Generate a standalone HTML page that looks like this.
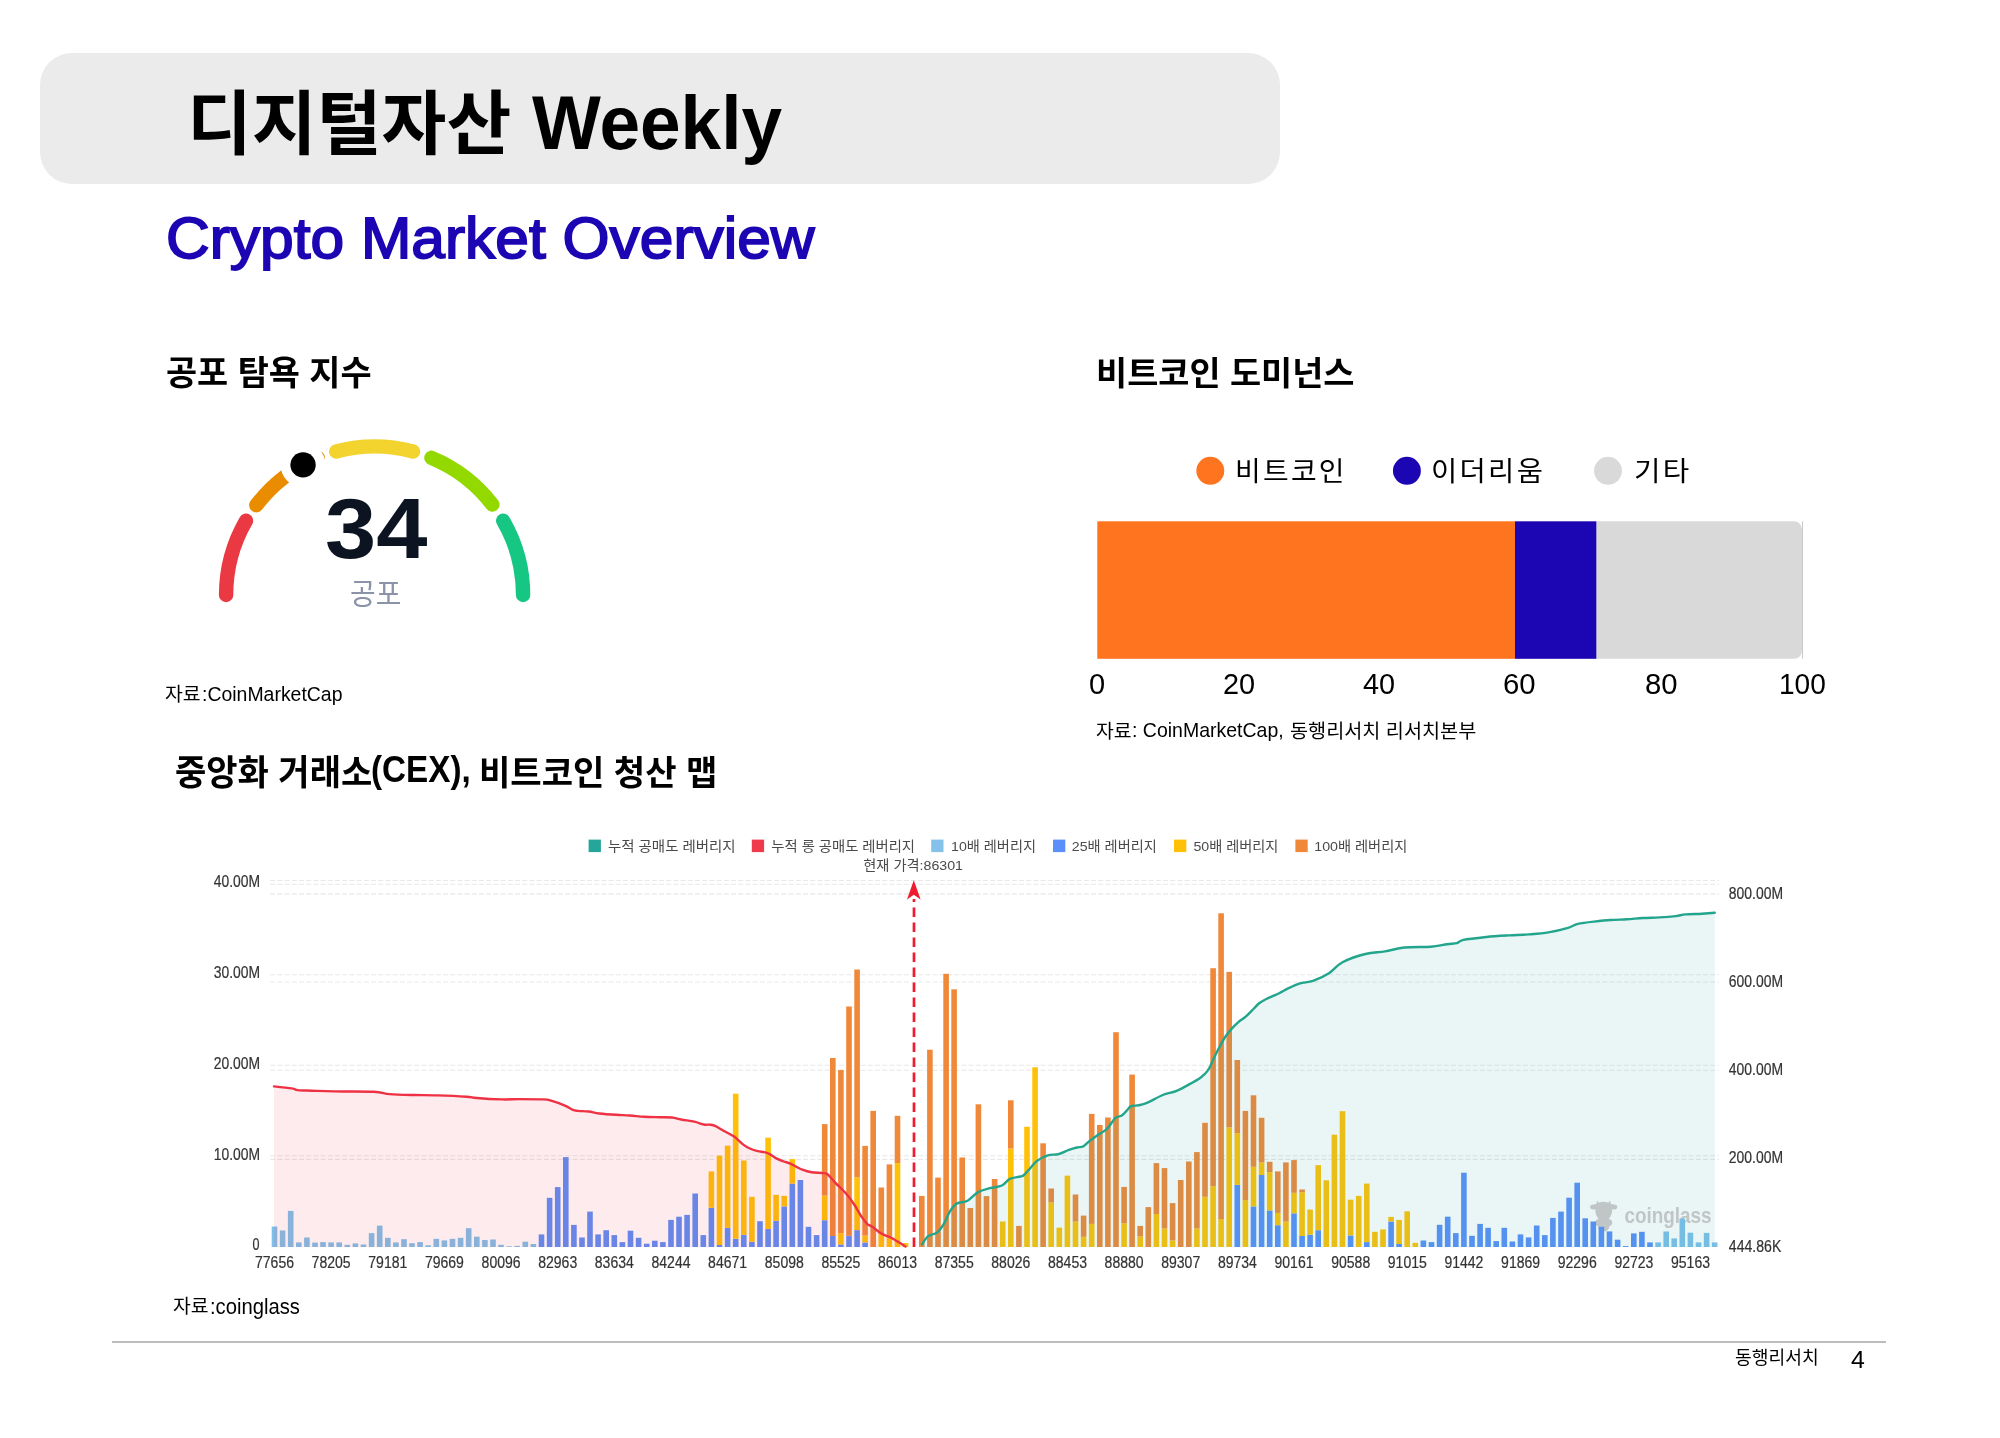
<!DOCTYPE html>
<html lang="ko"><head><meta charset="utf-8"><title>디지털자산 Weekly</title>
<style>
html,body{margin:0;padding:0;background:#fff;}
body{width:2000px;height:1438px;position:relative;overflow:hidden;font-family:"Liberation Sans","Noto Sans CJK KR","NanumGothic",sans-serif;color:#000;}
.abs{position:absolute;white-space:nowrap;line-height:1;transform-origin:0 0;}
#hdr{position:absolute;left:40px;top:52.6px;width:1240.1px;height:131.8px;border-radius:32px;background:#ebebeb;}
#foot{position:absolute;left:112.2px;top:1341.1px;width:1774.3px;height:1.6px;background:#bdbdbd;}
</style></head><body>
<div id="hdr"></div>
<div id="t_kr" class="abs tx" style="left:186.72px;top:90.65px;font-size:69.93px;font-weight:700;color:#000;transform:scaleX(1.0081);">디지털자산 </div>
<div id="t_en" class="abs tx" style="left:532.00px;top:84.78px;font-size:76.54px;font-weight:700;color:#000;transform:scaleX(0.9528);">Weekly</div>
<div id="sub" class="abs tx" style="left:165.57px;top:209.50px;font-size:57.68px;font-weight:400;color:#1c05b3;transform:scaleX(1.0485);-webkit-text-stroke:1.8px #1c05b3;">Crypto Market Overview</div>
<div id="h2a" class="abs tx" style="left:166.01px;top:355.80px;font-size:34.43px;font-weight:700;color:#000;transform:scaleX(0.9828);">공포 탐욕 지수</div>
<div id="h2b" class="abs tx" style="left:1095.91px;top:357.05px;font-size:33.28px;font-weight:700;color:#000;transform:scaleX(1.0173);">비트코인 도미넌스</div>
<div id="h2c1" class="abs tx" style="left:174.60px;top:756.15px;font-size:34.72px;font-weight:700;color:#000;transform:scaleX(0.9799);">중앙화 거래소</div>
<div id="h2c2" class="abs tx" style="left:370.91px;top:752.08px;font-size:36.51px;font-weight:700;color:#000;transform:scaleX(0.9106);">(CEX), </div>
<div id="h2c3" class="abs tx" style="left:479.39px;top:756.47px;font-size:34.36px;font-weight:700;color:#000;transform:scaleX(0.9917);">비트코인 청산 맵</div>
<div id="src1k" class="abs tx" style="left:164.98px;top:686.49px;font-size:18.88px;font-weight:400;color:#000;transform:scaleX(1.0260);">자료</div>
<div id="src1e" class="abs tx" style="left:201.77px;top:684.04px;font-size:20.68px;font-weight:400;color:#000;transform:scaleX(0.9406);">:CoinMarketCap</div>
<div id="src2a" class="abs tx" style="left:1095.98px;top:722.99px;font-size:18.88px;font-weight:400;color:#000;transform:scaleX(1.0260);">자료</div>
<div id="src2b" class="abs tx" style="left:1131.57px;top:720.20px;font-size:20.94px;font-weight:400;color:#000;transform:scaleX(0.9311);">: CoinMarketCap, </div>
<div id="src2c" class="abs tx" style="left:1289.76px;top:721.55px;font-size:19.73px;font-weight:400;color:#000;transform:scaleX(0.9966);">동행리서치 리서치본부</div>
<div id="src3k" class="abs tx" style="left:173.48px;top:1298.49px;font-size:18.88px;font-weight:400;color:#000;transform:scaleX(1.0260);">자료</div>
<div id="src3e" class="abs tx" style="left:210.20px;top:1295.51px;font-size:21.22px;font-weight:400;color:#000;transform:scaleX(0.9533);">:coinglass</div>
<div id="ft1" class="abs tx" style="left:1734.99px;top:1349.88px;font-size:17.92px;font-weight:400;color:#000;transform:scaleX(1.0154);">동행리서치</div>
<div id="ft2" class="abs tx" style="left:1851.19px;top:1349.20px;font-size:23.34px;font-weight:400;color:#000;transform:scaleX(1.0649);">4</div>
<div id="g34" class="abs tx" style="left:324.72px;top:486.24px;font-size:85.16px;font-weight:700;color:#0d1421;transform:scaleX(1.0811);filter:blur(0.7px);">34</div>
<div id="gfear" class="abs tx" style="left:350.16px;top:579.12px;font-size:30.10px;font-weight:400;color:#8a93a8;transform:scaleX(0.9263);filter:blur(0.6px);">공포</div>
<div id="lg1" class="abs tx" style="left:1235.00px;top:458.52px;font-size:26.98px;font-weight:400;color:#000;transform:scaleX(1.0344);letter-spacing:2.2px;">비트코인</div>
<div id="lg2" class="abs tx" style="left:1431.36px;top:458.52px;font-size:26.98px;font-weight:400;color:#000;transform:scaleX(1.0573);letter-spacing:2.2px;">이더리움</div>
<div id="lg3" class="abs tx" style="left:1634.17px;top:458.84px;font-size:26.99px;font-weight:400;color:#000;transform:scaleX(1.0672);letter-spacing:2.2px;">기타</div>
<div id="ax0" class="abs tx" style="left:1088.78px;top:669.03px;font-size:29.52px;font-weight:400;color:#000;transform:scaleX(0.9834);">0</div>
<div id="ax20" class="abs tx" style="left:1222.66px;top:669.03px;font-size:29.52px;font-weight:400;color:#000;transform:scaleX(0.9781);">20</div>
<div id="ax40" class="abs tx" style="left:1363.43px;top:669.03px;font-size:29.52px;font-weight:400;color:#000;transform:scaleX(0.9777);">40</div>
<div id="ax60" class="abs tx" style="left:1503.33px;top:669.03px;font-size:29.52px;font-weight:400;color:#000;transform:scaleX(0.9933);">60</div>
<div id="ax80" class="abs tx" style="left:1644.72px;top:669.03px;font-size:29.52px;font-weight:400;color:#000;transform:scaleX(0.9919);">80</div>
<div id="ax100" class="abs tx" style="left:1778.84px;top:669.03px;font-size:29.52px;font-weight:400;color:#000;transform:scaleX(0.9509);">100</div>
<div id="foot"></div>
<svg id="gauge" style="position:absolute;left:200px;top:420px;filter:blur(0.6px)" width="350" height="200" viewBox="200 420 350 200"><path d="M226.10 595.00A148.5 148.5 0 0 1 246.00 520.75" stroke="#ea3943" stroke-width="14.4" stroke-linecap="round" fill="none"/><path d="M256.32 505.22A148.5 148.5 0 0 1 317.77 457.80" stroke="#ea8c00" stroke-width="14.4" stroke-linecap="round" fill="none"/><path d="M336.17 451.56A148.5 148.5 0 0 1 413.03 451.56" stroke="#f3d42f" stroke-width="14.4" stroke-linecap="round" fill="none"/><path d="M431.43 457.80A148.5 148.5 0 0 1 492.41 504.60" stroke="#93d900" stroke-width="14.4" stroke-linecap="round" fill="none"/><path d="M503.20 520.75A148.5 148.5 0 0 1 523.10 595.00" stroke="#16c784" stroke-width="14.4" stroke-linecap="round" fill="none"/><circle cx="303.06" cy="464.87" r="22.5" fill="#fff"/><circle cx="303.06" cy="464.87" r="12.7" fill="#000"/></svg>
<svg id="dom" style="position:absolute;left:1080px;top:440px" width="760" height="230" viewBox="1080 440 760 230">
<circle cx="1210.3" cy="470.8" r="13.95" fill="#ff741f"/><circle cx="1406.9" cy="470.8" r="13.95" fill="#1c05b3"/><circle cx="1608" cy="470.8" r="13.95" fill="#d9d9d9"/>
<path d="M1596 521.3H1794a8 8 0 0 1 8 8V650.800a8 8 0 0 1 -8 8H1596Z" fill="#d9d9d9"/>
<rect x="1097.3" y="521.3" width="417.7" height="137.500" fill="#ff741f"/>
<rect x="1515" y="521.3" width="81.300" height="137.500" fill="#1c05b3"/>
<path d="M1802.500 521.300V658.800" stroke="#cacaca" stroke-width="1"/>
</svg>
<svg id="chart" style="position:absolute;left:200px;top:830px;filter:blur(0.4px)" width="1620" height="450" viewBox="200 830 1620 450">
<g stroke="#e8e8e8" stroke-width="1.1" stroke-dasharray="5 2.2" fill="none">
<path d="M270.2 880.5H1719"/>
<path d="M270.2 884.2H1719"/>
<path d="M270.2 893.9H1719"/>
<path d="M270.2 974.8H1719"/>
<path d="M270.2 982.0H1719"/>
<path d="M270.2 1065.3H1719"/>
<path d="M270.2 1070.3H1719"/>
<path d="M270.2 1155.8H1719"/>
<path d="M270.2 1159.4H1719"/>
</g>
<g fill="#d2c9cb">
<path d="M1597.2 1200.6l1.600 2.100q4.800-1.700 9.600 0l1.600-2.100l1.100 3.300q2.600 0.300 5.300 1.200q1.700 1.300 0.600 3.100q-1.200 1.500-3.600 1.300l-1.400-0.300q0.500 5.600-3.300 9.700q3.600 0.700 3.700 3.800q-0.200 2.600-2.700 3.200q-0.700 3.400-3.400 5.300h-5.200q-2.700-1.900-3.400-5.300q-2.500-0.600-2.700-3.200q0.100-3.100 3.700-3.800q-3.800-4.100-3.300-9.700l-1.400 0.300q-2.400 0.200-3.600-1.300q-1.100-1.800 0.600-3.100q2.700-0.900 5.300-1.200z"/>
<text x="1624.4" y="1223.2" font-size="22" font-weight="700" font-family="Liberation Sans, Noto Sans CJK KR, NanumGothic, sans-serif" textLength="87.2" lengthAdjust="spacingAndGlyphs">coinglass</text>
</g>
<g shape-rendering="auto">
<rect x="271.7" y="1226.5" width="5.6" height="20.5" fill="#7ec0ea"/>
<rect x="279.8" y="1230.5" width="5.6" height="16.5" fill="#7ec0ea"/>
<rect x="287.9" y="1210.9" width="5.6" height="36.1" fill="#7ec0ea"/>
<rect x="296.0" y="1242.4" width="5.6" height="4.6" fill="#7ec0ea"/>
<rect x="304.1" y="1237.5" width="5.6" height="9.5" fill="#7ec0ea"/>
<rect x="312.2" y="1242.6" width="5.6" height="4.4" fill="#7ec0ea"/>
<rect x="320.2" y="1242.1" width="5.6" height="4.9" fill="#7ec0ea"/>
<rect x="328.3" y="1242.4" width="5.6" height="4.6" fill="#7ec0ea"/>
<rect x="336.4" y="1242.4" width="5.6" height="4.6" fill="#7ec0ea"/>
<rect x="344.5" y="1244.8" width="5.6" height="2.2" fill="#7ec0ea"/>
<rect x="352.6" y="1243.4" width="5.6" height="3.6" fill="#7ec0ea"/>
<rect x="360.7" y="1244.5" width="5.6" height="2.5" fill="#7ec0ea"/>
<rect x="368.8" y="1233.1" width="5.6" height="13.9" fill="#7ec0ea"/>
<rect x="376.9" y="1225.6" width="5.6" height="21.4" fill="#7ec0ea"/>
<rect x="385.0" y="1237.8" width="5.6" height="9.2" fill="#7ec0ea"/>
<rect x="393.1" y="1242.4" width="5.6" height="4.6" fill="#7ec0ea"/>
<rect x="401.2" y="1239.2" width="5.6" height="7.8" fill="#7ec0ea"/>
<rect x="409.2" y="1243.2" width="5.6" height="3.8" fill="#7ec0ea"/>
<rect x="417.3" y="1242.1" width="5.6" height="4.9" fill="#7ec0ea"/>
<rect x="425.4" y="1245.3" width="5.6" height="1.7" fill="#7ec0ea"/>
<rect x="433.5" y="1238.8" width="5.6" height="8.2" fill="#7ec0ea"/>
<rect x="441.6" y="1240.4" width="5.6" height="6.6" fill="#7ec0ea"/>
<rect x="449.7" y="1238.8" width="5.6" height="8.2" fill="#7ec0ea"/>
<rect x="457.8" y="1237.8" width="5.6" height="9.2" fill="#7ec0ea"/>
<rect x="465.9" y="1228.2" width="5.6" height="18.8" fill="#7ec0ea"/>
<rect x="474.0" y="1236.7" width="5.6" height="10.3" fill="#7ec0ea"/>
<rect x="482.1" y="1240.0" width="5.6" height="7.0" fill="#7ec0ea"/>
<rect x="490.2" y="1239.5" width="5.6" height="7.5" fill="#7ec0ea"/>
<rect x="498.2" y="1244.8" width="5.6" height="2.2" fill="#7ec0ea"/>
<rect x="506.3" y="1246.3" width="5.6" height="0.7" fill="#7ec0ea"/>
<rect x="514.4" y="1245.9" width="5.6" height="1.1" fill="#7ec0ea"/>
<rect x="522.5" y="1241.7" width="5.6" height="5.3" fill="#7ec0ea"/>
<rect x="530.6" y="1244.0" width="5.6" height="3.0" fill="#7ec0ea"/>
<rect x="538.7" y="1234.4" width="5.6" height="12.6" fill="#5b8ff9"/>
<rect x="546.8" y="1197.8" width="5.6" height="49.2" fill="#5b8ff9"/>
<rect x="554.9" y="1187.1" width="5.6" height="59.9" fill="#5b8ff9"/>
<rect x="563.0" y="1157.1" width="5.6" height="89.9" fill="#5b8ff9"/>
<rect x="571.1" y="1224.9" width="5.6" height="22.1" fill="#5b8ff9"/>
<rect x="579.2" y="1237.5" width="5.6" height="9.5" fill="#5b8ff9"/>
<rect x="587.2" y="1211.6" width="5.6" height="35.4" fill="#5b8ff9"/>
<rect x="595.3" y="1234.4" width="5.6" height="12.6" fill="#5b8ff9"/>
<rect x="603.4" y="1230.2" width="5.6" height="16.8" fill="#5b8ff9"/>
<rect x="611.5" y="1235.1" width="5.6" height="11.9" fill="#5b8ff9"/>
<rect x="619.6" y="1242.1" width="5.6" height="4.9" fill="#5b8ff9"/>
<rect x="627.7" y="1230.7" width="5.6" height="16.3" fill="#5b8ff9"/>
<rect x="635.8" y="1237.8" width="5.6" height="9.2" fill="#5b8ff9"/>
<rect x="643.9" y="1243.7" width="5.6" height="3.3" fill="#5b8ff9"/>
<rect x="652.0" y="1240.7" width="5.6" height="6.3" fill="#5b8ff9"/>
<rect x="660.1" y="1242.1" width="5.6" height="4.9" fill="#5b8ff9"/>
<rect x="668.2" y="1219.9" width="5.6" height="27.1" fill="#5b8ff9"/>
<rect x="676.2" y="1216.7" width="5.6" height="30.3" fill="#5b8ff9"/>
<rect x="684.3" y="1214.9" width="5.6" height="32.1" fill="#5b8ff9"/>
<rect x="692.4" y="1193.5" width="5.6" height="53.5" fill="#5b8ff9"/>
<rect x="700.5" y="1235.1" width="5.6" height="11.9" fill="#5b8ff9"/>
<rect x="708.6" y="1207.8" width="5.6" height="39.2" fill="#5b8ff9"/>
<rect x="708.6" y="1171.4" width="5.6" height="36.4" fill="#ffc107"/>
<rect x="716.7" y="1245.0" width="5.6" height="2.0" fill="#5b8ff9"/>
<rect x="716.7" y="1155.6" width="5.6" height="89.4" fill="#ffc107"/>
<rect x="724.8" y="1227.8" width="5.6" height="19.2" fill="#5b8ff9"/>
<rect x="724.8" y="1145.7" width="5.6" height="82.1" fill="#ffc107"/>
<rect x="732.9" y="1238.7" width="5.6" height="8.3" fill="#5b8ff9"/>
<rect x="732.9" y="1093.7" width="5.6" height="145.0" fill="#ffc107"/>
<rect x="741.0" y="1234.8" width="5.6" height="12.2" fill="#5b8ff9"/>
<rect x="741.0" y="1160.5" width="5.6" height="74.3" fill="#ffc107"/>
<rect x="749.1" y="1241.8" width="5.6" height="5.2" fill="#5b8ff9"/>
<rect x="749.1" y="1196.8" width="5.6" height="45.0" fill="#ffc107"/>
<rect x="757.2" y="1221.2" width="5.6" height="25.8" fill="#5b8ff9"/>
<rect x="765.3" y="1228.9" width="5.6" height="18.1" fill="#5b8ff9"/>
<rect x="765.3" y="1137.7" width="5.6" height="91.2" fill="#ffc107"/>
<rect x="773.3" y="1220.8" width="5.6" height="26.2" fill="#5b8ff9"/>
<rect x="773.3" y="1194.8" width="5.6" height="26.0" fill="#ffc107"/>
<rect x="781.4" y="1206.4" width="5.6" height="40.6" fill="#5b8ff9"/>
<rect x="781.4" y="1195.9" width="5.6" height="10.5" fill="#ffc107"/>
<rect x="789.5" y="1183.6" width="5.6" height="63.4" fill="#5b8ff9"/>
<rect x="789.5" y="1159.1" width="5.6" height="24.5" fill="#ffc107"/>
<rect x="797.6" y="1180.0" width="5.6" height="67.0" fill="#5b8ff9"/>
<rect x="805.7" y="1226.8" width="5.6" height="20.2" fill="#5b8ff9"/>
<rect x="813.8" y="1235.1" width="5.6" height="11.9" fill="#5b8ff9"/>
<rect x="821.9" y="1220.2" width="5.6" height="26.8" fill="#5b8ff9"/>
<rect x="821.9" y="1195.5" width="5.6" height="24.7" fill="#ffc107"/>
<rect x="821.9" y="1124.1" width="5.6" height="71.4" fill="#f0883a"/>
<rect x="830.0" y="1236.0" width="5.6" height="11.0" fill="#5b8ff9"/>
<rect x="830.0" y="1058.0" width="5.6" height="178.0" fill="#f0883a"/>
<rect x="838.1" y="1244.4" width="5.6" height="2.6" fill="#5b8ff9"/>
<rect x="838.1" y="1233.1" width="5.6" height="11.3" fill="#ffc107"/>
<rect x="838.1" y="1070.0" width="5.6" height="163.1" fill="#f0883a"/>
<rect x="846.2" y="1235.8" width="5.6" height="11.2" fill="#5b8ff9"/>
<rect x="846.2" y="1006.5" width="5.6" height="229.3" fill="#f0883a"/>
<rect x="854.3" y="1230.1" width="5.6" height="16.9" fill="#5b8ff9"/>
<rect x="854.3" y="1177.4" width="5.6" height="52.7" fill="#ffc107"/>
<rect x="854.3" y="969.5" width="5.6" height="207.9" fill="#f0883a"/>
<rect x="862.3" y="1242.4" width="5.6" height="4.6" fill="#5b8ff9"/>
<rect x="862.3" y="1235.5" width="5.6" height="6.9" fill="#ffc107"/>
<rect x="862.3" y="1145.9" width="5.6" height="89.6" fill="#f0883a"/>
<rect x="870.4" y="1110.9" width="5.6" height="136.1" fill="#f0883a"/>
<rect x="878.5" y="1234.0" width="5.6" height="13.0" fill="#ffc107"/>
<rect x="878.5" y="1187.5" width="5.6" height="46.5" fill="#f0883a"/>
<rect x="886.6" y="1236.0" width="5.6" height="11.0" fill="#ffc107"/>
<rect x="886.6" y="1164.4" width="5.6" height="71.6" fill="#f0883a"/>
<rect x="894.7" y="1163.1" width="5.6" height="83.9" fill="#ffc107"/>
<rect x="894.7" y="1115.8" width="5.6" height="47.3" fill="#f0883a"/>
<rect x="902.8" y="1243.0" width="5.6" height="4.0" fill="#ffc107"/>
<rect x="919.0" y="1195.9" width="5.6" height="51.1" fill="#f0883a"/>
<rect x="927.1" y="1049.7" width="5.6" height="197.3" fill="#f0883a"/>
<rect x="935.2" y="1177.6" width="5.6" height="69.4" fill="#f0883a"/>
<rect x="943.3" y="973.8" width="5.6" height="273.2" fill="#f0883a"/>
<rect x="951.3" y="989.3" width="5.6" height="257.7" fill="#f0883a"/>
<rect x="959.4" y="1157.5" width="5.6" height="89.5" fill="#f0883a"/>
<rect x="967.5" y="1208.0" width="5.6" height="39.0" fill="#f0883a"/>
<rect x="975.6" y="1104.3" width="5.6" height="142.7" fill="#f0883a"/>
<rect x="983.7" y="1196.1" width="5.6" height="50.9" fill="#f0883a"/>
<rect x="991.8" y="1179.0" width="5.6" height="68.0" fill="#f0883a"/>
<rect x="999.9" y="1221.5" width="5.6" height="25.5" fill="#ffc107"/>
<rect x="1008.0" y="1148.6" width="5.6" height="98.4" fill="#ffc107"/>
<rect x="1008.0" y="1100.3" width="5.6" height="48.3" fill="#f0883a"/>
<rect x="1016.1" y="1225.9" width="5.6" height="21.1" fill="#f0883a"/>
<rect x="1024.2" y="1126.8" width="5.6" height="120.2" fill="#ffc107"/>
<rect x="1032.3" y="1067.3" width="5.6" height="179.7" fill="#ffc107"/>
<rect x="1040.3" y="1143.3" width="5.6" height="103.7" fill="#f0883a"/>
<rect x="1048.4" y="1202.5" width="5.6" height="44.5" fill="#ffc107"/>
<rect x="1048.4" y="1188.5" width="5.6" height="14.0" fill="#f0883a"/>
<rect x="1056.5" y="1227.6" width="5.6" height="19.4" fill="#ffc107"/>
<rect x="1064.6" y="1175.6" width="5.6" height="71.4" fill="#ffc107"/>
<rect x="1072.7" y="1221.5" width="5.6" height="25.5" fill="#ffc107"/>
<rect x="1072.7" y="1194.5" width="5.6" height="27.0" fill="#f0883a"/>
<rect x="1080.8" y="1236.8" width="5.6" height="10.2" fill="#ffc107"/>
<rect x="1080.8" y="1215.6" width="5.6" height="21.2" fill="#f0883a"/>
<rect x="1088.9" y="1223.9" width="5.6" height="23.1" fill="#ffc107"/>
<rect x="1088.9" y="1113.9" width="5.6" height="110.0" fill="#f0883a"/>
<rect x="1097.0" y="1125.0" width="5.6" height="122.0" fill="#f0883a"/>
<rect x="1105.1" y="1117.5" width="5.6" height="129.5" fill="#f0883a"/>
<rect x="1113.2" y="1032.2" width="5.6" height="214.8" fill="#f0883a"/>
<rect x="1121.3" y="1223.2" width="5.6" height="23.8" fill="#ffc107"/>
<rect x="1121.3" y="1186.9" width="5.6" height="36.3" fill="#f0883a"/>
<rect x="1129.3" y="1074.6" width="5.6" height="172.4" fill="#f0883a"/>
<rect x="1137.4" y="1236.4" width="5.6" height="10.6" fill="#ffc107"/>
<rect x="1137.4" y="1225.9" width="5.6" height="10.5" fill="#f0883a"/>
<rect x="1145.5" y="1207.1" width="5.6" height="39.9" fill="#f0883a"/>
<rect x="1153.6" y="1214.0" width="5.6" height="33.0" fill="#ffc107"/>
<rect x="1153.6" y="1163.1" width="5.6" height="50.9" fill="#f0883a"/>
<rect x="1161.7" y="1228.5" width="5.6" height="18.5" fill="#ffc107"/>
<rect x="1161.7" y="1168.1" width="5.6" height="60.4" fill="#f0883a"/>
<rect x="1169.8" y="1240.4" width="5.6" height="6.6" fill="#ffc107"/>
<rect x="1169.8" y="1203.1" width="5.6" height="37.3" fill="#f0883a"/>
<rect x="1177.9" y="1180.0" width="5.6" height="67.0" fill="#f0883a"/>
<rect x="1186.0" y="1161.5" width="5.6" height="85.5" fill="#f0883a"/>
<rect x="1194.1" y="1228.5" width="5.6" height="18.5" fill="#ffc107"/>
<rect x="1194.1" y="1152.1" width="5.6" height="76.4" fill="#f0883a"/>
<rect x="1202.2" y="1196.8" width="5.6" height="50.2" fill="#ffc107"/>
<rect x="1202.2" y="1122.8" width="5.6" height="74.0" fill="#f0883a"/>
<rect x="1210.3" y="1186.2" width="5.6" height="60.8" fill="#ffc107"/>
<rect x="1210.3" y="968.2" width="5.6" height="218.0" fill="#f0883a"/>
<rect x="1218.3" y="1219.0" width="5.6" height="28.0" fill="#ffc107"/>
<rect x="1218.3" y="913.3" width="5.6" height="305.7" fill="#f0883a"/>
<rect x="1226.4" y="1127.4" width="5.6" height="119.6" fill="#ffc107"/>
<rect x="1226.4" y="971.9" width="5.6" height="155.5" fill="#f0883a"/>
<rect x="1234.5" y="1184.9" width="5.6" height="62.1" fill="#5b8ff9"/>
<rect x="1234.5" y="1133.1" width="5.6" height="51.8" fill="#ffc107"/>
<rect x="1234.5" y="1060.0" width="5.6" height="73.1" fill="#f0883a"/>
<rect x="1242.6" y="1200.1" width="5.6" height="46.9" fill="#ffc107"/>
<rect x="1242.6" y="1110.9" width="5.6" height="89.2" fill="#f0883a"/>
<rect x="1250.7" y="1206.4" width="5.6" height="40.6" fill="#5b8ff9"/>
<rect x="1250.7" y="1166.8" width="5.6" height="39.6" fill="#ffc107"/>
<rect x="1250.7" y="1095.3" width="5.6" height="71.5" fill="#f0883a"/>
<rect x="1258.8" y="1175.0" width="5.6" height="72.0" fill="#5b8ff9"/>
<rect x="1258.8" y="1162.4" width="5.6" height="12.6" fill="#ffc107"/>
<rect x="1258.8" y="1117.8" width="5.6" height="44.6" fill="#f0883a"/>
<rect x="1266.9" y="1210.4" width="5.6" height="36.6" fill="#5b8ff9"/>
<rect x="1266.9" y="1172.1" width="5.6" height="38.3" fill="#ffc107"/>
<rect x="1266.9" y="1161.8" width="5.6" height="10.3" fill="#f0883a"/>
<rect x="1275.0" y="1225.2" width="5.6" height="21.8" fill="#5b8ff9"/>
<rect x="1275.0" y="1212.9" width="5.6" height="12.3" fill="#ffc107"/>
<rect x="1275.0" y="1171.4" width="5.6" height="41.5" fill="#f0883a"/>
<rect x="1283.1" y="1221.5" width="5.6" height="25.5" fill="#ffc107"/>
<rect x="1283.1" y="1162.4" width="5.6" height="59.1" fill="#f0883a"/>
<rect x="1291.2" y="1213.3" width="5.6" height="33.7" fill="#5b8ff9"/>
<rect x="1291.2" y="1192.8" width="5.6" height="20.5" fill="#ffc107"/>
<rect x="1291.2" y="1160.1" width="5.6" height="32.7" fill="#f0883a"/>
<rect x="1299.3" y="1236.0" width="5.6" height="11.0" fill="#5b8ff9"/>
<rect x="1299.3" y="1192.2" width="5.6" height="43.8" fill="#ffc107"/>
<rect x="1299.3" y="1189.5" width="5.6" height="2.7" fill="#f0883a"/>
<rect x="1307.3" y="1234.7" width="5.6" height="12.3" fill="#5b8ff9"/>
<rect x="1307.3" y="1209.6" width="5.6" height="25.1" fill="#ffc107"/>
<rect x="1315.4" y="1230.2" width="5.6" height="16.8" fill="#5b8ff9"/>
<rect x="1315.4" y="1165.1" width="5.6" height="65.1" fill="#ffc107"/>
<rect x="1323.5" y="1180.3" width="5.6" height="66.7" fill="#ffc107"/>
<rect x="1331.6" y="1134.7" width="5.6" height="112.3" fill="#ffc107"/>
<rect x="1339.7" y="1111.2" width="5.6" height="135.8" fill="#ffc107"/>
<rect x="1347.8" y="1235.4" width="5.6" height="11.6" fill="#5b8ff9"/>
<rect x="1347.8" y="1199.7" width="5.6" height="35.7" fill="#ffc107"/>
<rect x="1355.9" y="1195.9" width="5.6" height="51.1" fill="#ffc107"/>
<rect x="1364.0" y="1242.1" width="5.6" height="4.9" fill="#5b8ff9"/>
<rect x="1364.0" y="1183.6" width="5.6" height="58.5" fill="#ffc107"/>
<rect x="1372.1" y="1231.8" width="5.6" height="15.2" fill="#ffc107"/>
<rect x="1380.2" y="1229.4" width="5.6" height="17.6" fill="#ffc107"/>
<rect x="1388.3" y="1221.5" width="5.6" height="25.5" fill="#5b8ff9"/>
<rect x="1388.3" y="1216.9" width="5.6" height="4.6" fill="#ffc107"/>
<rect x="1396.3" y="1244.0" width="5.6" height="3.0" fill="#5b8ff9"/>
<rect x="1396.3" y="1219.9" width="5.6" height="24.1" fill="#ffc107"/>
<rect x="1404.4" y="1211.3" width="5.6" height="35.7" fill="#ffc107"/>
<rect x="1412.5" y="1242.8" width="5.6" height="4.2" fill="#ffc107"/>
<rect x="1420.6" y="1240.5" width="5.6" height="6.5" fill="#5b8ff9"/>
<rect x="1428.7" y="1242.1" width="5.6" height="4.9" fill="#5b8ff9"/>
<rect x="1436.8" y="1224.8" width="5.6" height="22.2" fill="#5b8ff9"/>
<rect x="1444.9" y="1216.7" width="5.6" height="30.3" fill="#5b8ff9"/>
<rect x="1453.0" y="1233.1" width="5.6" height="13.9" fill="#5b8ff9"/>
<rect x="1461.1" y="1172.7" width="5.6" height="74.3" fill="#5b8ff9"/>
<rect x="1469.2" y="1235.8" width="5.6" height="11.2" fill="#5b8ff9"/>
<rect x="1477.3" y="1223.9" width="5.6" height="23.1" fill="#5b8ff9"/>
<rect x="1485.3" y="1227.8" width="5.6" height="19.2" fill="#5b8ff9"/>
<rect x="1493.4" y="1241.1" width="5.6" height="5.9" fill="#5b8ff9"/>
<rect x="1501.5" y="1227.8" width="5.6" height="19.2" fill="#5b8ff9"/>
<rect x="1509.6" y="1241.5" width="5.6" height="5.5" fill="#5b8ff9"/>
<rect x="1517.7" y="1234.4" width="5.6" height="12.6" fill="#5b8ff9"/>
<rect x="1525.8" y="1237.4" width="5.6" height="9.6" fill="#5b8ff9"/>
<rect x="1533.9" y="1225.5" width="5.6" height="21.5" fill="#5b8ff9"/>
<rect x="1542.0" y="1235.1" width="5.6" height="11.9" fill="#5b8ff9"/>
<rect x="1550.1" y="1217.9" width="5.6" height="29.1" fill="#5b8ff9"/>
<rect x="1558.2" y="1211.6" width="5.6" height="35.4" fill="#5b8ff9"/>
<rect x="1566.3" y="1197.7" width="5.6" height="49.3" fill="#5b8ff9"/>
<rect x="1574.4" y="1182.7" width="5.6" height="64.3" fill="#5b8ff9"/>
<rect x="1582.4" y="1218.3" width="5.6" height="28.7" fill="#5b8ff9"/>
<rect x="1590.5" y="1221.5" width="5.6" height="25.5" fill="#5b8ff9"/>
<rect x="1598.6" y="1226.8" width="5.6" height="20.2" fill="#5b8ff9"/>
<rect x="1606.7" y="1231.4" width="5.6" height="15.6" fill="#5b8ff9"/>
<rect x="1614.8" y="1239.7" width="5.6" height="7.3" fill="#5b8ff9"/>
<rect x="1622.9" y="1246.1" width="5.6" height="0.9" fill="#5b8ff9"/>
<rect x="1631.0" y="1233.4" width="5.6" height="13.6" fill="#5b8ff9"/>
<rect x="1639.1" y="1231.8" width="5.6" height="15.2" fill="#5b8ff9"/>
<rect x="1647.2" y="1242.4" width="5.6" height="4.6" fill="#5b8ff9"/>
<rect x="1655.3" y="1242.4" width="5.6" height="4.6" fill="#7ec0ea"/>
<rect x="1663.4" y="1231.5" width="5.6" height="15.5" fill="#7ec0ea"/>
<rect x="1671.4" y="1238.4" width="5.6" height="8.6" fill="#7ec0ea"/>
<rect x="1679.5" y="1218.6" width="5.6" height="28.4" fill="#7ec0ea"/>
<rect x="1687.6" y="1232.7" width="5.6" height="14.3" fill="#7ec0ea"/>
<rect x="1695.7" y="1242.4" width="5.6" height="4.6" fill="#7ec0ea"/>
<rect x="1703.8" y="1232.9" width="5.6" height="14.1" fill="#7ec0ea"/>
<rect x="1711.9" y="1242.4" width="5.6" height="4.6" fill="#7ec0ea"/>
</g>
<path d="M274.0 1086.4C277.0 1086.7 287.9 1087.8 291.8 1088.4C295.8 1089.0 294.4 1089.7 297.7 1090.1C301.0 1090.5 305.6 1090.5 311.6 1090.7C317.7 1090.9 323.6 1091.2 334.0 1091.4C344.4 1091.6 364.4 1091.2 373.7 1091.7C383.0 1092.2 383.0 1093.5 389.6 1094.1C396.2 1094.6 405.4 1094.8 413.3 1095.0C421.2 1095.2 428.3 1095.1 437.1 1095.4C445.9 1095.7 459.6 1096.3 466.2 1096.7C472.8 1097.1 470.9 1097.5 476.8 1098.0C482.8 1098.5 494.7 1099.2 501.9 1099.4C509.1 1099.6 513.0 1099.1 520.0 1099.1C527.0 1099.1 538.6 1099.1 543.8 1099.4C549.0 1099.7 547.6 1099.7 551.1 1100.7C554.6 1101.7 561.3 1104.1 564.9 1105.6C568.5 1107.1 570.7 1109.0 572.9 1109.9C575.1 1110.8 575.5 1110.6 578.1 1110.9C580.7 1111.2 585.2 1111.1 588.7 1111.5C592.2 1111.9 594.7 1113.0 599.3 1113.5C603.9 1114.0 611.4 1114.5 616.5 1114.8C621.6 1115.1 625.1 1115.2 629.7 1115.5C634.3 1115.8 639.1 1116.5 644.2 1116.8C649.3 1117.1 655.5 1117.1 660.1 1117.2C664.7 1117.3 668.5 1117.1 672.0 1117.5C675.5 1117.9 677.5 1118.8 681.2 1119.5C684.9 1120.2 690.6 1120.9 694.4 1121.7C698.1 1122.5 701.1 1124.0 703.7 1124.5C706.4 1125.0 708.3 1124.4 710.3 1124.7C712.3 1125.0 713.4 1125.1 715.6 1126.1C717.8 1127.1 720.4 1129.0 723.5 1130.7C726.6 1132.5 730.8 1134.3 734.1 1136.6C737.4 1138.9 740.7 1142.6 743.3 1144.6C745.9 1146.6 747.5 1147.4 749.9 1148.5C752.3 1149.6 755.4 1150.6 757.8 1151.2C760.2 1151.8 762.4 1151.7 764.4 1152.2C766.4 1152.7 767.7 1153.1 769.7 1154.1C771.7 1155.1 773.9 1157.2 776.3 1158.4C778.7 1159.6 781.6 1160.6 784.0 1161.5C786.4 1162.4 787.4 1162.3 790.5 1163.7C793.6 1165.1 798.9 1168.3 802.4 1169.7C805.9 1171.1 808.3 1171.8 811.6 1172.3C814.9 1172.8 819.6 1172.7 822.2 1173.0C824.9 1173.3 825.3 1172.6 827.5 1174.3C829.7 1176.0 832.3 1179.7 835.4 1182.9C838.5 1186.1 842.9 1190.0 846.0 1193.5C849.1 1197.0 851.2 1200.0 853.9 1204.0C856.5 1208.0 859.7 1213.9 861.9 1217.2C864.1 1220.5 865.4 1222.2 867.1 1223.8C868.9 1225.4 870.0 1225.1 872.4 1226.8C874.8 1228.5 878.6 1232.0 881.7 1233.8C884.8 1235.6 888.0 1236.3 890.9 1237.7C893.8 1239.1 896.4 1240.8 898.8 1242.3C901.2 1243.8 904.4 1245.9 905.5 1246.6L905.5 1247.0L274 1247.0Z" fill="#ee3a4a" fill-opacity="0.1"/>
<path d="M922.0 1244.3C923.0 1243.0 925.4 1238.4 927.9 1236.4C930.4 1234.4 934.6 1234.5 937.2 1232.4C939.9 1230.3 941.6 1227.4 943.8 1223.8C946.0 1220.2 948.2 1214.0 950.4 1210.6C952.6 1207.2 954.1 1205.1 957.0 1203.4C959.9 1201.8 964.1 1202.6 967.6 1200.7C971.1 1198.8 974.4 1194.2 978.1 1192.1C981.8 1190.0 986.0 1189.3 990.0 1188.2C994.0 1187.1 998.6 1187.0 1001.9 1185.5C1005.2 1184.0 1006.7 1180.4 1009.8 1178.9C1012.9 1177.4 1018.0 1177.2 1020.4 1176.5C1022.8 1175.8 1022.3 1176.5 1024.0 1175.0C1025.7 1173.5 1028.4 1170.1 1030.6 1167.7C1032.8 1165.3 1034.3 1162.8 1037.2 1160.7C1040.1 1158.7 1044.3 1156.5 1047.8 1155.4C1051.3 1154.3 1054.9 1155.0 1058.4 1154.1C1061.9 1153.2 1065.8 1151.0 1068.9 1149.9C1072.0 1148.8 1074.5 1148.1 1076.9 1147.5C1079.3 1146.9 1081.3 1147.4 1083.5 1146.2C1085.7 1145.0 1087.5 1142.6 1090.1 1140.6C1092.7 1138.6 1096.4 1136.0 1099.3 1134.0C1102.2 1132.0 1104.5 1131.4 1107.2 1128.7C1109.9 1126.0 1112.8 1120.3 1115.2 1118.1C1117.6 1115.9 1119.8 1116.8 1121.8 1115.5C1123.8 1114.2 1125.6 1111.8 1127.1 1110.2C1128.6 1108.7 1129.0 1107.0 1131.0 1106.2C1133.0 1105.4 1136.3 1105.8 1139.0 1105.2C1141.7 1104.7 1143.0 1104.6 1146.9 1102.9C1150.9 1101.2 1157.9 1097.0 1162.7 1095.0C1167.5 1093.0 1171.6 1092.9 1176.0 1091.1C1180.4 1089.3 1185.0 1086.7 1189.2 1084.4C1193.4 1082.1 1198.0 1079.5 1201.1 1077.2C1204.2 1074.9 1206.0 1072.9 1207.7 1070.6C1209.5 1068.3 1210.5 1065.5 1211.6 1063.3C1212.7 1061.1 1213.0 1060.0 1214.3 1057.3C1215.6 1054.5 1217.8 1050.1 1219.6 1046.8C1221.3 1043.5 1222.8 1040.5 1224.8 1037.5C1226.8 1034.5 1229.3 1031.4 1231.5 1028.9C1233.7 1026.4 1235.7 1024.4 1238.1 1022.3C1240.5 1020.2 1243.4 1018.7 1246.0 1016.4C1248.6 1014.1 1251.7 1010.7 1253.9 1008.5C1256.1 1006.3 1257.2 1004.8 1259.2 1003.2C1261.2 1001.7 1263.2 1000.5 1265.8 999.2C1268.4 997.9 1272.4 996.4 1275.1 995.2C1277.8 994.0 1279.5 993.0 1281.7 991.9C1283.9 990.8 1285.0 989.8 1288.0 988.4C1291.0 987.0 1295.8 984.7 1300.0 983.4C1304.2 982.1 1308.2 982.5 1313.1 980.8C1318.0 979.0 1324.5 976.0 1329.4 972.9C1334.3 969.8 1336.5 965.4 1342.5 962.2C1348.5 959.1 1358.3 955.8 1365.4 954.0C1372.5 952.2 1378.5 952.5 1385.0 951.4C1391.5 950.3 1397.0 948.3 1404.6 947.5C1412.2 946.7 1423.6 947.3 1430.7 946.8C1437.8 946.2 1442.6 944.8 1447.0 944.2C1451.4 943.6 1454.2 943.9 1456.9 943.2C1459.6 942.5 1458.5 940.9 1463.4 939.9C1468.3 938.9 1478.7 937.8 1486.3 937.0C1493.9 936.2 1502.1 935.8 1509.2 935.4C1516.3 935.0 1522.3 934.9 1528.8 934.4C1535.3 933.9 1541.9 933.5 1548.4 932.4C1554.9 931.3 1563.1 929.2 1568.0 927.8C1572.9 926.4 1573.5 924.9 1577.8 923.9C1582.1 922.9 1588.6 922.2 1594.1 921.6C1599.5 921.0 1605.0 920.4 1610.5 920.0C1616.0 919.6 1621.4 919.6 1626.8 919.3C1632.2 919.0 1637.6 918.3 1643.1 918.0C1648.5 917.7 1654.0 917.7 1659.5 917.4C1665.0 917.1 1671.5 916.6 1675.8 916.1C1680.1 915.6 1681.2 914.8 1685.6 914.4C1690.0 914.0 1697.2 914.1 1702.0 913.8C1706.8 913.5 1712.6 913.0 1714.7 912.8L1714.7 1247.0L922 1247.0Z" fill="#26a69a" fill-opacity="0.1"/>
<path d="M274.0 1086.4C277.0 1086.7 287.9 1087.8 291.8 1088.4C295.8 1089.0 294.4 1089.7 297.7 1090.1C301.0 1090.5 305.6 1090.5 311.6 1090.7C317.7 1090.9 323.6 1091.2 334.0 1091.4C344.4 1091.6 364.4 1091.2 373.7 1091.7C383.0 1092.2 383.0 1093.5 389.6 1094.1C396.2 1094.6 405.4 1094.8 413.3 1095.0C421.2 1095.2 428.3 1095.1 437.1 1095.4C445.9 1095.7 459.6 1096.3 466.2 1096.7C472.8 1097.1 470.9 1097.5 476.8 1098.0C482.8 1098.5 494.7 1099.2 501.9 1099.4C509.1 1099.6 513.0 1099.1 520.0 1099.1C527.0 1099.1 538.6 1099.1 543.8 1099.4C549.0 1099.7 547.6 1099.7 551.1 1100.7C554.6 1101.7 561.3 1104.1 564.9 1105.6C568.5 1107.1 570.7 1109.0 572.9 1109.9C575.1 1110.8 575.5 1110.6 578.1 1110.9C580.7 1111.2 585.2 1111.1 588.7 1111.5C592.2 1111.9 594.7 1113.0 599.3 1113.5C603.9 1114.0 611.4 1114.5 616.5 1114.8C621.6 1115.1 625.1 1115.2 629.7 1115.5C634.3 1115.8 639.1 1116.5 644.2 1116.8C649.3 1117.1 655.5 1117.1 660.1 1117.2C664.7 1117.3 668.5 1117.1 672.0 1117.5C675.5 1117.9 677.5 1118.8 681.2 1119.5C684.9 1120.2 690.6 1120.9 694.4 1121.7C698.1 1122.5 701.1 1124.0 703.7 1124.5C706.4 1125.0 708.3 1124.4 710.3 1124.7C712.3 1125.0 713.4 1125.1 715.6 1126.1C717.8 1127.1 720.4 1129.0 723.5 1130.7C726.6 1132.5 730.8 1134.3 734.1 1136.6C737.4 1138.9 740.7 1142.6 743.3 1144.6C745.9 1146.6 747.5 1147.4 749.9 1148.5C752.3 1149.6 755.4 1150.6 757.8 1151.2C760.2 1151.8 762.4 1151.7 764.4 1152.2C766.4 1152.7 767.7 1153.1 769.7 1154.1C771.7 1155.1 773.9 1157.2 776.3 1158.4C778.7 1159.6 781.6 1160.6 784.0 1161.5C786.4 1162.4 787.4 1162.3 790.5 1163.7C793.6 1165.1 798.9 1168.3 802.4 1169.7C805.9 1171.1 808.3 1171.8 811.6 1172.3C814.9 1172.8 819.6 1172.7 822.2 1173.0C824.9 1173.3 825.3 1172.6 827.5 1174.3C829.7 1176.0 832.3 1179.7 835.4 1182.9C838.5 1186.1 842.9 1190.0 846.0 1193.5C849.1 1197.0 851.2 1200.0 853.9 1204.0C856.5 1208.0 859.7 1213.9 861.9 1217.2C864.1 1220.5 865.4 1222.2 867.1 1223.8C868.9 1225.4 870.0 1225.1 872.4 1226.8C874.8 1228.5 878.6 1232.0 881.7 1233.8C884.8 1235.6 888.0 1236.3 890.9 1237.7C893.8 1239.1 896.4 1240.8 898.8 1242.3C901.2 1243.8 904.4 1245.9 905.5 1246.6" fill="none" stroke="#ee3244" stroke-width="2.4" stroke-linejoin="round" stroke-linecap="round"/>
<path d="M922.0 1244.3C923.0 1243.0 925.4 1238.4 927.9 1236.4C930.4 1234.4 934.6 1234.5 937.2 1232.4C939.9 1230.3 941.6 1227.4 943.8 1223.8C946.0 1220.2 948.2 1214.0 950.4 1210.6C952.6 1207.2 954.1 1205.1 957.0 1203.4C959.9 1201.8 964.1 1202.6 967.6 1200.7C971.1 1198.8 974.4 1194.2 978.1 1192.1C981.8 1190.0 986.0 1189.3 990.0 1188.2C994.0 1187.1 998.6 1187.0 1001.9 1185.5C1005.2 1184.0 1006.7 1180.4 1009.8 1178.9C1012.9 1177.4 1018.0 1177.2 1020.4 1176.5C1022.8 1175.8 1022.3 1176.5 1024.0 1175.0C1025.7 1173.5 1028.4 1170.1 1030.6 1167.7C1032.8 1165.3 1034.3 1162.8 1037.2 1160.7C1040.1 1158.7 1044.3 1156.5 1047.8 1155.4C1051.3 1154.3 1054.9 1155.0 1058.4 1154.1C1061.9 1153.2 1065.8 1151.0 1068.9 1149.9C1072.0 1148.8 1074.5 1148.1 1076.9 1147.5C1079.3 1146.9 1081.3 1147.4 1083.5 1146.2C1085.7 1145.0 1087.5 1142.6 1090.1 1140.6C1092.7 1138.6 1096.4 1136.0 1099.3 1134.0C1102.2 1132.0 1104.5 1131.4 1107.2 1128.7C1109.9 1126.0 1112.8 1120.3 1115.2 1118.1C1117.6 1115.9 1119.8 1116.8 1121.8 1115.5C1123.8 1114.2 1125.6 1111.8 1127.1 1110.2C1128.6 1108.7 1129.0 1107.0 1131.0 1106.2C1133.0 1105.4 1136.3 1105.8 1139.0 1105.2C1141.7 1104.7 1143.0 1104.6 1146.9 1102.9C1150.9 1101.2 1157.9 1097.0 1162.7 1095.0C1167.5 1093.0 1171.6 1092.9 1176.0 1091.1C1180.4 1089.3 1185.0 1086.7 1189.2 1084.4C1193.4 1082.1 1198.0 1079.5 1201.1 1077.2C1204.2 1074.9 1206.0 1072.9 1207.7 1070.6C1209.5 1068.3 1210.5 1065.5 1211.6 1063.3C1212.7 1061.1 1213.0 1060.0 1214.3 1057.3C1215.6 1054.5 1217.8 1050.1 1219.6 1046.8C1221.3 1043.5 1222.8 1040.5 1224.8 1037.5C1226.8 1034.5 1229.3 1031.4 1231.5 1028.9C1233.7 1026.4 1235.7 1024.4 1238.1 1022.3C1240.5 1020.2 1243.4 1018.7 1246.0 1016.4C1248.6 1014.1 1251.7 1010.7 1253.9 1008.5C1256.1 1006.3 1257.2 1004.8 1259.2 1003.2C1261.2 1001.7 1263.2 1000.5 1265.8 999.2C1268.4 997.9 1272.4 996.4 1275.1 995.2C1277.8 994.0 1279.5 993.0 1281.7 991.9C1283.9 990.8 1285.0 989.8 1288.0 988.4C1291.0 987.0 1295.8 984.7 1300.0 983.4C1304.2 982.1 1308.2 982.5 1313.1 980.8C1318.0 979.0 1324.5 976.0 1329.4 972.9C1334.3 969.8 1336.5 965.4 1342.5 962.2C1348.5 959.1 1358.3 955.8 1365.4 954.0C1372.5 952.2 1378.5 952.5 1385.0 951.4C1391.5 950.3 1397.0 948.3 1404.6 947.5C1412.2 946.7 1423.6 947.3 1430.7 946.8C1437.8 946.2 1442.6 944.8 1447.0 944.2C1451.4 943.6 1454.2 943.9 1456.9 943.2C1459.6 942.5 1458.5 940.9 1463.4 939.9C1468.3 938.9 1478.7 937.8 1486.3 937.0C1493.9 936.2 1502.1 935.8 1509.2 935.4C1516.3 935.0 1522.3 934.9 1528.8 934.4C1535.3 933.9 1541.9 933.5 1548.4 932.4C1554.9 931.3 1563.1 929.2 1568.0 927.8C1572.9 926.4 1573.5 924.9 1577.8 923.9C1582.1 922.9 1588.6 922.2 1594.1 921.6C1599.5 921.0 1605.0 920.4 1610.5 920.0C1616.0 919.6 1621.4 919.6 1626.8 919.3C1632.2 919.0 1637.6 918.3 1643.1 918.0C1648.5 917.7 1654.0 917.7 1659.5 917.4C1665.0 917.1 1671.5 916.6 1675.8 916.1C1680.1 915.6 1681.2 914.8 1685.6 914.4C1690.0 914.0 1697.2 914.1 1702.0 913.8C1706.8 913.5 1712.6 913.0 1714.7 912.8" fill="none" stroke="#22a58c" stroke-width="2.4" stroke-linejoin="round" stroke-linecap="round"/>
<path d="M914 1247V899" stroke="#ee1c2e" stroke-width="2.7" stroke-dasharray="9.4 5.6" fill="none"/>
<path d="M913.8 880.3L920.6 899.6L913.8 894.8L907 899.6Z" fill="#ee1c2e"/>
<g font-family="Liberation Sans, Noto Sans CJK KR, NanumGothic, sans-serif" font-size="13.5" fill="#4a4a4a">
<rect x="588.6" y="839.6" width="12.3" height="12.5" fill="#26a69a"/>
<text x="608.0" y="850.8" textLength="127.6" lengthAdjust="spacingAndGlyphs">누적 공매도 레버리지</text>
<rect x="751.8" y="839.6" width="12.3" height="12.5" fill="#ee3a4a"/>
<text x="771.3" y="850.8" textLength="143.7" lengthAdjust="spacingAndGlyphs">누적 롱 공매도 레버리지</text>
<rect x="931.2" y="839.6" width="12.3" height="12.5" fill="#84c2ea"/>
<text x="951.0" y="850.8" textLength="85.0" lengthAdjust="spacingAndGlyphs">10배 레버리지</text>
<rect x="1053.0" y="839.6" width="12.3" height="12.5" fill="#5b8ff9"/>
<text x="1071.8" y="850.8" textLength="85.0" lengthAdjust="spacingAndGlyphs">25배 레버리지</text>
<rect x="1174.0" y="839.6" width="12.3" height="12.5" fill="#ffc107"/>
<text x="1193.4" y="850.8" textLength="85.0" lengthAdjust="spacingAndGlyphs">50배 레버리지</text>
<rect x="1295.4" y="839.6" width="12.3" height="12.5" fill="#f0883a"/>
<text x="1314.3" y="850.8" textLength="93.0" lengthAdjust="spacingAndGlyphs">100배 레버리지</text>
<text x="863.3" y="870.3" textLength="99.7" lengthAdjust="spacingAndGlyphs">현재 가격:86301</text>
</g>
<g font-family="Liberation Sans, Noto Sans CJK KR, NanumGothic, sans-serif" font-size="15.8" fill="#333" stroke="#333" stroke-width="0.2">
<text x="213.7" y="887.4" textLength="46.3" lengthAdjust="spacingAndGlyphs">40.00M</text>
<text x="213.7" y="978.3" textLength="46.3" lengthAdjust="spacingAndGlyphs">30.00M</text>
<text x="213.7" y="1069.2" textLength="46.3" lengthAdjust="spacingAndGlyphs">20.00M</text>
<text x="213.7" y="1160.2" textLength="46.3" lengthAdjust="spacingAndGlyphs">10.00M</text>
<text x="252.6" y="1250.4" textLength="7" lengthAdjust="spacingAndGlyphs">0</text>
<text x="1728.8" y="898.8" textLength="54.2" lengthAdjust="spacingAndGlyphs">800.00M</text>
<text x="1728.8" y="987.1" textLength="54.2" lengthAdjust="spacingAndGlyphs">600.00M</text>
<text x="1728.8" y="1074.8" textLength="54.2" lengthAdjust="spacingAndGlyphs">400.00M</text>
<text x="1728.8" y="1162.9" textLength="54.2" lengthAdjust="spacingAndGlyphs">200.00M</text>
<text x="1728.8" y="1251.6" textLength="52.5" lengthAdjust="spacingAndGlyphs">444.86K</text>
<text x="255.0" y="1268.2" textLength="39" lengthAdjust="spacingAndGlyphs">77656</text>
<text x="311.6" y="1268.2" textLength="39" lengthAdjust="spacingAndGlyphs">78205</text>
<text x="368.3" y="1268.2" textLength="39" lengthAdjust="spacingAndGlyphs">79181</text>
<text x="424.9" y="1268.2" textLength="39" lengthAdjust="spacingAndGlyphs">79669</text>
<text x="481.6" y="1268.2" textLength="39" lengthAdjust="spacingAndGlyphs">80096</text>
<text x="538.2" y="1268.2" textLength="39" lengthAdjust="spacingAndGlyphs">82963</text>
<text x="594.8" y="1268.2" textLength="39" lengthAdjust="spacingAndGlyphs">83634</text>
<text x="651.5" y="1268.2" textLength="39" lengthAdjust="spacingAndGlyphs">84244</text>
<text x="708.1" y="1268.2" textLength="39" lengthAdjust="spacingAndGlyphs">84671</text>
<text x="764.8" y="1268.2" textLength="39" lengthAdjust="spacingAndGlyphs">85098</text>
<text x="821.4" y="1268.2" textLength="39" lengthAdjust="spacingAndGlyphs">85525</text>
<text x="878.0" y="1268.2" textLength="39" lengthAdjust="spacingAndGlyphs">86013</text>
<text x="934.7" y="1268.2" textLength="39" lengthAdjust="spacingAndGlyphs">87355</text>
<text x="991.3" y="1268.2" textLength="39" lengthAdjust="spacingAndGlyphs">88026</text>
<text x="1048.0" y="1268.2" textLength="39" lengthAdjust="spacingAndGlyphs">88453</text>
<text x="1104.6" y="1268.2" textLength="39" lengthAdjust="spacingAndGlyphs">88880</text>
<text x="1161.2" y="1268.2" textLength="39" lengthAdjust="spacingAndGlyphs">89307</text>
<text x="1217.9" y="1268.2" textLength="39" lengthAdjust="spacingAndGlyphs">89734</text>
<text x="1274.5" y="1268.2" textLength="39" lengthAdjust="spacingAndGlyphs">90161</text>
<text x="1331.2" y="1268.2" textLength="39" lengthAdjust="spacingAndGlyphs">90588</text>
<text x="1387.8" y="1268.2" textLength="39" lengthAdjust="spacingAndGlyphs">91015</text>
<text x="1444.4" y="1268.2" textLength="39" lengthAdjust="spacingAndGlyphs">91442</text>
<text x="1501.1" y="1268.2" textLength="39" lengthAdjust="spacingAndGlyphs">91869</text>
<text x="1557.7" y="1268.2" textLength="39" lengthAdjust="spacingAndGlyphs">92296</text>
<text x="1614.4" y="1268.2" textLength="39" lengthAdjust="spacingAndGlyphs">92723</text>
<text x="1671.0" y="1268.2" textLength="39" lengthAdjust="spacingAndGlyphs">95163</text>
</g>
</svg>
</body></html>
